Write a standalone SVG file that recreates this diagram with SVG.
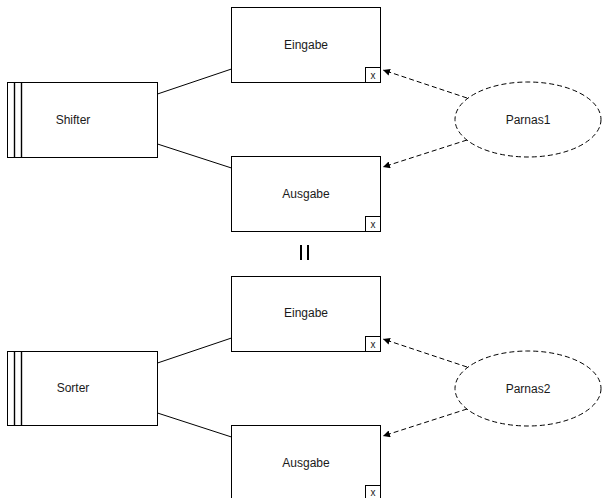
<svg xmlns="http://www.w3.org/2000/svg" width="602" height="498" viewBox="0 0 602 498">
  <style>
    .box { fill: #ffffff; stroke: #000000; stroke-width: 1; }
    .bar { stroke: #000000; stroke-width: 1.4; }
    .tag { fill: #ffffff; stroke: #000000; stroke-width: 1; }
    .lbl { font-family: "Liberation Sans", Arial, sans-serif; font-size: 12px; fill: #1a1a1a; text-anchor: middle; dominant-baseline: central; }
    .tagtxt { font-family: "Liberation Sans", Arial, sans-serif; font-size: 10px; fill: #1a1a1a; text-anchor: middle; dominant-baseline: central; }
    .link { stroke: #000000; stroke-width: 1; fill: none; }
    .dep { stroke: #000000; stroke-width: 1; fill: none; stroke-dasharray: 5 3; }
    .mod { fill: #ffffff; stroke: #000000; stroke-width: 1; stroke-dasharray: 5 3; }
  </style>
  <defs>
    <marker id="arrow" viewBox="0 0 10 10" refX="10" refY="5" markerWidth="7" markerHeight="7" orient="auto" markerUnits="userSpaceOnUse">
      <path d="M0,0 L10,5 L0,10 z" fill="#000000"/>
    </marker>
  </defs>

  <!-- connectors -->
  <g id="connectors">
    <line class="link" x1="157.5" y1="94" x2="231.5" y2="69"/>
    <line class="link" x1="157.5" y1="144" x2="231.5" y2="168"/>
    <line class="dep" x1="467" y1="98" x2="383" y2="70" marker-end="url(#arrow)"/>
    <line class="dep" x1="467" y1="140" x2="383" y2="167" marker-end="url(#arrow)"/>

    <line class="link" x1="157.5" y1="363" x2="231.5" y2="338"/>
    <line class="link" x1="157.5" y1="413" x2="231.5" y2="437"/>
    <line class="dep" x1="467" y1="367" x2="383" y2="339" marker-end="url(#arrow)"/>
    <line class="dep" x1="467" y1="409" x2="383" y2="436" marker-end="url(#arrow)"/>
  </g>

  <!-- upper module -->
  <g id="shifter">
    <rect class="box" x="7.5" y="82.5" width="150" height="75"/>
    <line class="bar" x1="14.5" y1="82.5" x2="14.5" y2="157.5"/>
    <line class="bar" x1="21.5" y1="82.5" x2="21.5" y2="157.5"/>
    <text class="lbl" x="73" y="120">Shifter</text>
  </g>
  <g id="eingabe1">
    <rect class="box" x="231.5" y="7.5" width="149" height="75"/>
    <text class="lbl" x="306" y="45">Eingabe</text>
    <rect class="tag" x="365.5" y="67.5" width="15" height="15"/>
    <text class="tagtxt" x="373" y="75">x</text>
  </g>
  <g id="ausgabe1">
    <rect class="box" x="231.5" y="156.5" width="149" height="75"/>
    <text class="lbl" x="306" y="194">Ausgabe</text>
    <rect class="tag" x="365.5" y="216.5" width="15" height="15"/>
    <text class="tagtxt" x="373" y="224">x</text>
  </g>
  <g id="parnas1">
    <ellipse class="mod" cx="528" cy="119.5" rx="73" ry="37.5"/>
    <text class="lbl" x="528" y="120">Parnas1</text>
  </g>

  <!-- equivalence sign -->
  <g id="equals">
    <line class="bar" x1="301" y1="245" x2="301" y2="260" style="stroke-width:2"/>
    <line class="bar" x1="308" y1="245" x2="308" y2="260" style="stroke-width:2"/>
  </g>

  <!-- lower module -->
  <g id="sorter">
    <rect class="box" x="7.5" y="351.5" width="150" height="74"/>
    <line class="bar" x1="14.5" y1="351.5" x2="14.5" y2="425.5"/>
    <line class="bar" x1="21.5" y1="351.5" x2="21.5" y2="425.5"/>
    <text class="lbl" x="73" y="388">Sorter</text>
  </g>
  <g id="eingabe2">
    <rect class="box" x="231.5" y="276.5" width="149" height="75"/>
    <text class="lbl" x="306" y="313">Eingabe</text>
    <rect class="tag" x="365.5" y="336.5" width="15" height="15"/>
    <text class="tagtxt" x="373" y="344">x</text>
  </g>
  <g id="ausgabe2">
    <rect class="box" x="231.5" y="425.5" width="149" height="75"/>
    <text class="lbl" x="306" y="463">Ausgabe</text>
    <rect class="tag" x="365.5" y="485.5" width="15" height="15"/>
    <text class="tagtxt" x="373" y="492">x</text>
  </g>
  <g id="parnas2">
    <ellipse class="mod" cx="528" cy="388.5" rx="73" ry="37.5"/>
    <text class="lbl" x="528" y="389">Parnas2</text>
  </g>
</svg>
